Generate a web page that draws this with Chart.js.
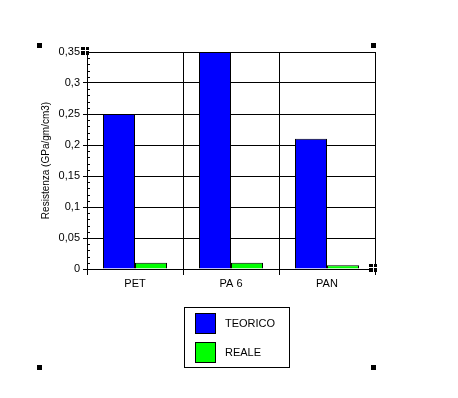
<!DOCTYPE html>
<html>
<head>
<meta charset="utf-8">
<script src="https://cdn.jsdelivr.net/npm/chart.js@4/dist/chart.umd.min.js"></script>
<style>
  html, body { margin: 0; padding: 0; background: #fff; }
  #wrap { width: 458px; height: 398px; position: relative; }
</style>
</head>
<body>
<div id="wrap"><canvas id="chart" width="458" height="398"></canvas></div>
<script>
const categories = ['PET', 'PA 6', 'PAN'];
const teorico = [0.25, 0.35, 0.21];
const reale = [0.01, 0.01, 0.006];
const yTickLabels = ['0', '0,05', '0,1', '0,15', '0,2', '0,25', '0,3', '0,35'];
const seriesNames = ['TEORICO', 'REALE'];
const seriesColors = ['#0000ff', '#00ff00'];

const FONT = 'Liberation Sans, Arial, sans-serif';

// minor ticks every 0.01 inside the y axis, plus the selection handles
const decorations = {
  id: 'decorations',
  afterDraw(chart) {
    const ctx = chart.ctx;
    const y = chart.scales.y;
    const left = chart.chartArea.left;
    ctx.save();
    ctx.strokeStyle = '#000';
    ctx.lineWidth = 1;
    for (let i = 1; i < 35; i++) {
      if (i % 5 === 0) continue;
      const py = Math.round(y.getPixelForValue(i / 100)) + 0.5;
      ctx.beginPath();
      ctx.moveTo(left, py);
      ctx.lineTo(left + 3, py);
      ctx.stroke();
    }

    // legend box
    ctx.strokeStyle = '#000';
    ctx.strokeRect(184.5, 307.5, 105, 60);
    ctx.font = '11px ' + FONT;
    ctx.textBaseline = 'middle';
    ctx.fillStyle = '#000';
    seriesNames.forEach((name, i) => {
      const top = 313 + i * 29;
      ctx.fillStyle = seriesColors[i];
      ctx.fillRect(195, top, 21, 21);
      ctx.strokeRect(195.5, top + 0.5, 20, 20);
      ctx.fillStyle = '#000';
      ctx.fillText(name, 225, top + 11);
    });

    // selection handles
    ctx.fillStyle = '#000';
    [[37, 43], [371, 43], [37, 365], [371, 365]].forEach(([hx, hy]) => {
      ctx.fillRect(hx, hy, 5, 5);
    });
    [[81, 47], [369, 264]].forEach(([hx, hy]) => {
      ctx.fillRect(hx, hy, 8, 8);
      ctx.fillStyle = '#fff';
      ctx.fillRect(hx, hy + 3, 8, 1);
      ctx.fillRect(hx + 4, hy, 1, 8);
      ctx.fillStyle = '#000';
    });
    ctx.restore();
  }
};

new Chart(document.getElementById('chart'), {
  type: 'bar',
  data: {
    labels: categories,
    datasets: [
      {
        label: seriesNames[0],
        data: teorico,
        backgroundColor: seriesColors[0],
        borderColor: '#000',
        borderWidth: 1,
        categoryPercentage: 2 / 3,
        barPercentage: 1,
      },
      {
        label: seriesNames[1],
        data: reale,
        backgroundColor: seriesColors[1],
        borderColor: '#000',
        borderWidth: 1,
        categoryPercentage: 2 / 3,
        barPercentage: 1,
      },
    ],
  },
  options: {
    responsive: false,
    animation: false,
    layout: { padding: { left: 40, top: 52, right: 83, bottom: 0 } },
    plugins: {
      legend: { display: false },
      tooltip: { enabled: false },
    },
    scales: {
      x: {
        grid: { offset: true, color: '#000', lineWidth: 1, tickLength: 6 },
        border: { color: '#000' },
        ticks: { color: '#000', font: { family: FONT, size: 11 }, padding: 2 },
        afterFit: (s) => { s.height = 129; },
      },
      y: {
        min: 0,
        max: 0.35,
        grid: { color: '#000', lineWidth: 1, tickLength: 4 },
        border: { color: '#000' },
        ticks: {
          stepSize: 0.05,
          color: '#000',
          padding: 3,
          font: { family: FONT, size: 11 },
          callback: (v) => yTickLabels[Math.round(v / 0.05)],
        },
        title: {
          display: true,
          text: 'Resistenza (GPa/gm/cm3)',
          color: '#000',
          font: { family: FONT, size: 10 },
          padding: 0,
        },
        afterFit: (s) => { s.width = 47; },
      },
    },
  },
  plugins: [decorations],
});
</script>
</body>
</html>
